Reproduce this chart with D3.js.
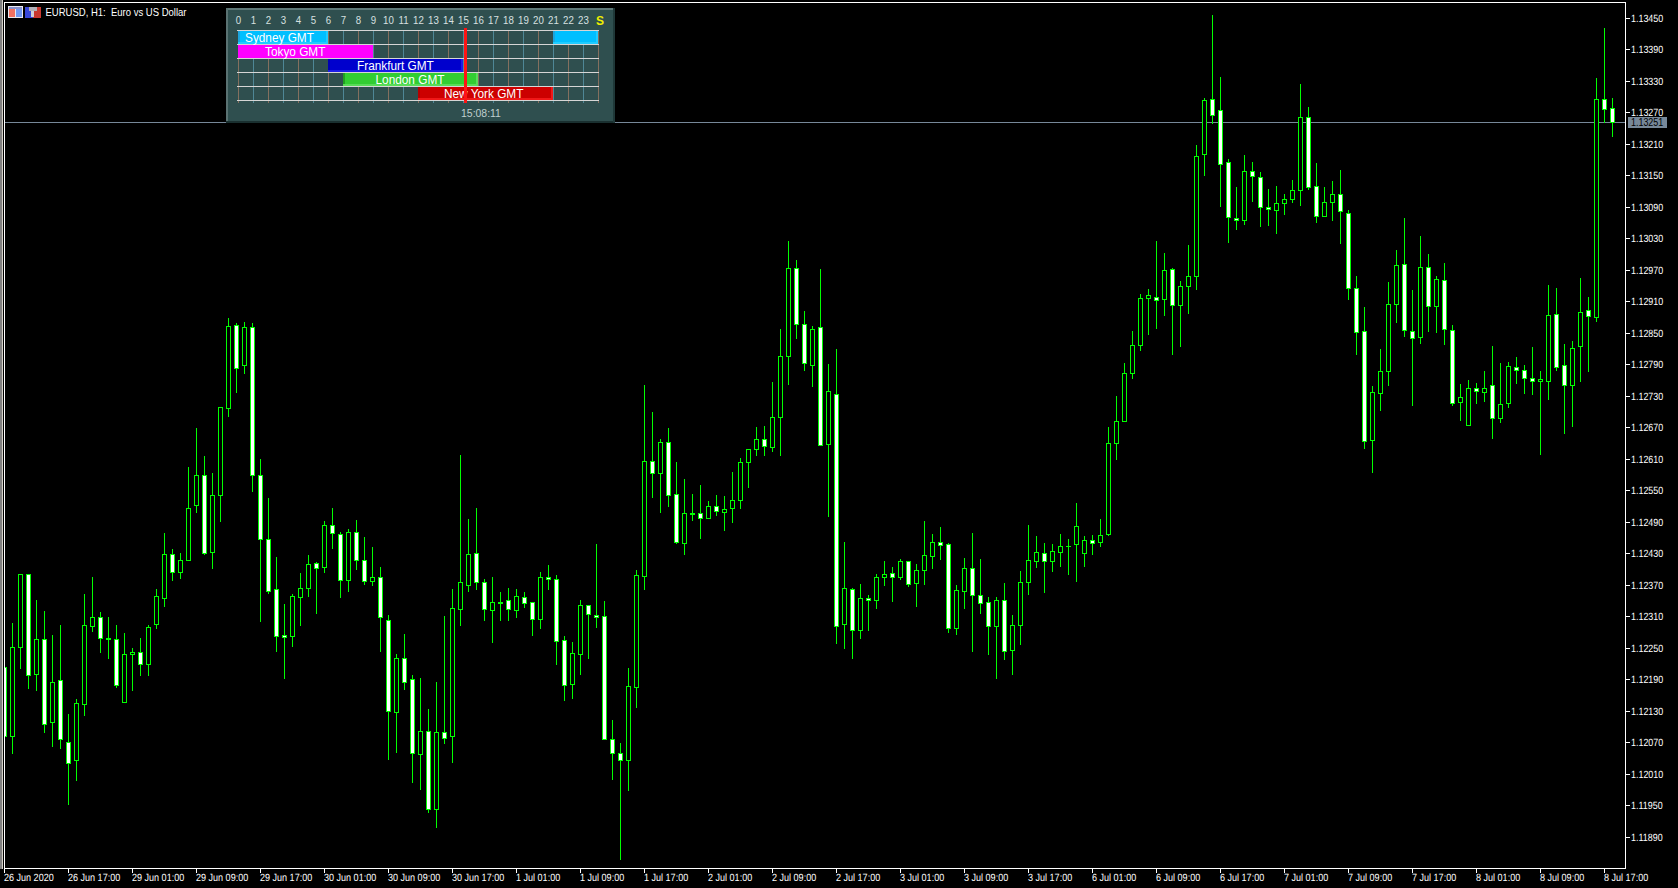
<!DOCTYPE html>
<html><head><meta charset="utf-8"><style>
html,body{margin:0;padding:0;background:#000;overflow:hidden}
svg{display:block}
text{font-family:"Liberation Sans",sans-serif;white-space:pre}
</style><script src="https://cdn.jsdelivr.net/npm/d3@7"></script></head><body><svg id="c" width="1678" height="888"></svg>
<script>
const opens=[112214,112082,112252,112391,112200,112266,112109,112189,112071,112036,
112143,112292,112309,112269,112266,112147,112238,112243,112219,112296,
112345,112428,112395,112417,112522,112580,112433,112541,112707,112866,
112789,112862,112580,112458,112363,112274,112272,112346,112364,112412,
112404,112484,112467,112379,112471,112418,112377,112385,112303,112127,
112231,112191,112047,112092,111943,112090,112082,112325,112369,112431,
112376,112322,112338,112341,112322,112347,112338,112305,112385,112381,
112265,112181,112238,112331,112313,112311,112076,112050,112036,112175,
112387,112606,112583,112643,112543,112450,112507,112507,112497,112520,
112508,112516,112531,112604,112628,112648,112632,112689,112806,112974,
112867,112789,112861,112638,112733,112296,112362,112284,112345,112341,
112386,112392,112385,112416,112374,112399,112425,112451,112447,112288,
112359,112403,112350,112338,112292,112342,112246,112294,112376,112416,
112430,112416,112433,112445,112448,112431,112456,112452,112467,112640,
112682,112773,112827,112916,112919,112914,112972,112903,112939,112958,
113190,113296,113275,113176,113069,113065,113159,113147,113090,113084,
113097,113105,113122,113261,113130,113072,113099,113115,113079,112936,
112854,112646,112735,112777,112905,112981,112854,112842,112976,112901,
112951,112856,112718,112674,112745,112737,112751,112687,112716,112785,
112780,112764,112759,112758,112886,112788,112750,112825,112894,112880,
113296,113279];
const closes=[112082,112252,112391,112198,112266,112105,112186,112076,112031,112146,
112294,112309,112269,112267,112179,112239,112243,112219,112290,112348,
112428,112395,112418,112517,112580,112431,112542,112708,112864,112783,
112862,112579,112457,112358,112273,112271,112349,112364,112410,112402,
112484,112468,112379,112471,112417,112377,112385,112308,112129,112231,
112185,112049,112092,111943,112090,112078,112326,112376,112429,112375,
112325,112338,112336,112324,112349,112335,112305,112385,112381,112263,
112179,112240,112332,112314,112309,112076,112050,112036,112178,112389,
112606,112583,112643,112542,112452,112507,112506,112497,112520,112511,
112515,112532,112605,112629,112648,112635,112690,112806,112974,112867,
112793,112857,112636,112740,112291,112364,112284,112345,112341,112386,
112390,112386,112415,112372,112399,112426,112451,112446,112288,112361,
112403,112351,112336,112292,112342,112244,112294,112376,112418,112432,
112416,112434,112445,112444,112483,112456,112450,112466,112641,112682,
112774,112827,112917,112922,112912,112970,112903,112940,112959,113187,
113294,113265,113171,113070,113065,113159,113148,113089,113086,113098,
113105,113122,113261,113127,113072,113100,113115,113082,112935,112851,
112644,112738,112778,112905,112980,112855,112840,112976,112901,112953,
112857,112716,112728,112745,112739,112745,112687,112715,112787,112779,
112764,112759,112762,112884,112786,112750,112821,112890,112882,113296,
113277,113252];
const highs=[112214,112297,112391,112391,112342,112321,112274,112293,112125,112152,
112352,112386,112318,112308,112293,112278,112249,112268,112294,112362,
112468,112438,112430,112594,112668,112615,112584,112708,112878,112868,
112870,112868,112609,112535,112423,112333,112353,112393,112426,112414,
112492,112517,112471,112477,112494,112462,112443,112405,112312,112239,
112277,112199,112192,112134,112186,112310,112363,112618,112496,112517,
112381,112386,112357,112365,112363,112357,112338,112395,112407,112388,
112272,112262,112342,112331,112447,112339,112112,112069,112211,112399,
112750,112699,112647,112668,112605,112571,112544,112561,112530,112542,
112540,112586,112611,112629,112670,112672,112757,112857,113026,112988,
112891,112864,112972,112790,112819,112451,112365,112371,112350,112390,
112415,112404,112420,112416,112409,112491,112467,112480,112449,112369,
112421,112468,112419,112347,112347,112373,112312,112396,112484,112463,
112449,112448,112467,112457,112526,112463,112465,112495,112670,112729,
112793,112853,112925,112933,113026,113003,112974,112948,113018,113207,
113298,113456,113338,113182,113127,113188,113176,113157,113125,113129,
113114,113142,113325,113281,113174,113127,113140,113161,113085,112959,
112900,112748,112820,112946,113007,113068,112931,113035,113001,112959,
112984,112866,112752,112761,112755,112778,112826,112792,112795,112805,
112788,112824,112778,112942,112936,112828,112835,112954,112919,113336,
113430,113298];
const lows=[112082,112049,112211,112174,112169,112089,112064,112059,111952,111998,
112123,112282,112242,112230,112175,112147,112169,112198,112198,112287,
112329,112379,112383,112417,112508,112428,112403,112491,112691,112737,
112773,112548,112302,112355,112245,112192,112254,112294,112348,112317,
112395,112441,112346,112359,112401,112371,112369,112245,112039,112052,
112172,111995,111982,111938,111908,112068,112033,112294,112359,112363,
112304,112262,112304,112304,112308,112327,112275,112287,112363,112220,
112150,112155,112201,112230,112289,112076,112001,111847,111980,112138,
112363,112537,112508,112521,112449,112429,112493,112459,112497,112504,
112474,112489,112517,112556,112618,112617,112626,112618,112752,112841,
112779,112748,112636,112502,112260,112249,112230,112268,112285,112326,
112369,112339,112381,112368,112329,112371,112402,112419,112280,112276,
112326,112244,112316,112238,112192,112228,112200,112257,112352,112404,
112356,112396,112406,112390,112377,112406,112428,112444,112465,112609,
112682,112765,112818,112847,112860,112885,112809,112826,112887,112934,
113150,113249,113091,113024,113047,113058,113102,113054,113056,113041,
113077,113100,113093,113125,113062,113072,113066,113022,112915,112809,
112630,112586,112704,112750,112870,112845,112713,112830,112854,112851,
112828,112712,112685,112674,112717,112721,112649,112681,112708,112755,
112736,112733,112620,112725,112780,112660,112673,112759,112778,112872,
113252,113225];
const priceTicks=[113450,113390,113330,113270,113210,113150,113090,113030,112970,112910,112850,112790,112730,112670,112610,112550,112490,112430,112370,112310,112250,112190,112130,112070,112010,111950,111890];
const timeLabels=["26 Jun 2020","26 Jun 17:00","29 Jun 01:00","29 Jun 09:00","29 Jun 17:00","30 Jun 01:00","30 Jun 09:00","30 Jun 17:00","1 Jul 01:00","1 Jul 09:00","1 Jul 17:00","2 Jul 01:00","2 Jul 09:00","2 Jul 17:00","3 Jul 01:00","3 Jul 09:00","3 Jul 17:00","6 Jul 01:00","6 Jul 09:00","6 Jul 17:00","7 Jul 01:00","7 Jul 09:00","7 Jul 17:00","8 Jul 01:00","8 Jul 09:00","8 Jul 17:00"];
const timeLabelStep=8;
const bidPrice=113251;
const chartTitle="EURUSD, H1:\u00A0\u00A0Euro vs US Dollar";
const sessionNames=["Sydney GMT","Tokyo GMT","Frankfurt GMT","London GMT","New York GMT"];
const sessionStarts=[0,0,6,7,12];
const sessionEnds=[6,9,15,16,21];
const sessionWrapStart=21;
const sessionColors=["#00BFFF","#FF00FF","#0000CD","#32CD32","#CC0000"];
const sessionLight=["#20CCFF","#FF00FF","#1C1CE8","#58DC58","#F01818"];
const sessionDark=["#1CA4DC","#FF00FF","#0000B4","#20A020","#B40000"];
const sessionTextX=[245,265,357,375.5,444];
const hours=d3.range(24);
const clockText="15:08:11";
const clockHour=15+8/60;

const fmt=v=>(v/1e5).toFixed(5);
const svg=d3.select("#c").attr("shape-rendering","crispEdges");
svg.append("rect").attr("width",1678).attr("height",888).attr("fill","#000");

const x=d3.scaleLinear().domain([0,201]).range([4,1612]).interpolate(d3.interpolateRound);
const y=d3.scaleLinear().domain([113450,111890]).range([17.9,836.9]).interpolate(d3.interpolateRound);

// squeeze text horizontally, keeps a tall narrow look like the terminal font
function squeeze(sel,k){sel.each(function(){const l=this.getComputedTextLength();d3.select(this).attr("textLength",l*k).attr("lengthAdjust","spacingAndGlyphs");});}

// window strip
svg.append("rect").attr("x",0).attr("y",0).attr("width",2).attr("height",869).attr("fill","#808080");
svg.append("rect").attr("x",2).attr("y",0).attr("width",1).attr("height",869).attr("fill","#d4d0c8");

// bid line behind candles
const bidY=y(bidPrice);
svg.append("rect").attr("x",5).attr("y",bidY).attr("width",1620).attr("height",1).attr("fill","#778899");

// candles
const defs=svg.append("defs");
defs.append("clipPath").attr("id","plot").append("rect").attr("x",5).attr("y",3).attr("width",1620).attr("height",865);
const candles=svg.append("g").attr("clip-path","url(#plot)");
const idx=d3.range(opens.length);
candles.selectAll("rect.w").data(idx).join("rect").attr("class","w")
 .attr("x",i=>x(i)).attr("width",1).attr("y",i=>y(highs[i])).attr("height",i=>y(lows[i])-y(highs[i])+1).attr("fill","#00FF00");
const bodyTop=i=>y(Math.max(opens[i],closes[i])), bodyBot=i=>y(Math.min(opens[i],closes[i]));
candles.selectAll("rect.b").data(idx).join("rect").attr("class","b")
 .attr("x",i=>x(i)-2).attr("width",5).attr("y",bodyTop).attr("height",i=>bodyBot(i)-bodyTop(i)+1).attr("fill","#00FF00");
candles.selectAll("rect.f").data(idx.filter(i=>bodyBot(i)-bodyTop(i)>1)).join("rect").attr("class","f")
 .attr("x",i=>x(i)-1).attr("width",3).attr("y",i=>bodyTop(i)+1).attr("height",i=>bodyBot(i)-bodyTop(i)-1)
 .attr("fill",i=>closes[i]<opens[i]?"#fff":"#000");

// frame
const frameRects=[[4,2,1622,1],[4,2,1,867],[1625,2,1,867],[4,868,1622,1]];
svg.selectAll("rect.fr").data(frameRects).join("rect").attr("class","fr")
 .attr("x",d=>d[0]).attr("y",d=>d[1]).attr("width",d=>d[2]).attr("height",d=>d[3]).attr("fill","#fff");

// axes
const yAxis=d3.axisRight(y).tickValues(priceTicks).tickSize(4).tickPadding(1).tickFormat(fmt);
const gy=svg.append("g").attr("transform","translate(1625.5,0)").call(yAxis);
const xTicks=timeLabels.map((_,j)=>j*timeLabelStep);
const xAxis=d3.axisBottom(x).tickValues(xTicks).tickSize(4).tickPadding(1).tickFormat((_,j)=>timeLabels[j]);
const gx=svg.append("g").attr("transform","translate(0,868.5)").call(xAxis);
[gy,gx].forEach(g=>{g.select(".domain").remove();g.attr("font-family",null).attr("font-size",null);
 g.selectAll("line").attr("stroke","#fff");
 g.selectAll("text").attr("fill","#fff").attr("font-size",10.5).style("font-family",'"Liberation Sans"').attr("text-rendering","geometricPrecision");});
gy.selectAll("text").attr("x",5.5).attr("dy","0.36em").call(squeeze,.85);
gx.selectAll("text").attr("text-anchor","start").attr("x",-0.5).attr("y",4).attr("dy","0.78em").call(squeeze,.86);

// bid label
svg.append("rect").attr("x",1628).attr("y",bidY-5).attr("width",39).attr("height",11).attr("fill","#778899");
svg.append("text").attr("x",1631).attr("y",bidY+4).attr("fill","#000").attr("font-size",10.5).text(fmt(bidPrice)).call(squeeze,.85);

// title and icons
const titleText=svg.append("text").attr("x",45.5).attr("y",16).attr("fill","#fff").attr("font-size",10.5).text(chartTitle);
titleText.call(squeeze,141/titleText.node().getComputedTextLength());
const icons=[[8,6,15,12,"#e8e8f0"],[9,7,13,2,"#8890c8"],[9,9,6,8,"#f07060"],[15.5,9,6,8,"#7098f0"],
 [25,7,8,11,"#3848d8"],[33,7,8,11,"#c83830"],[29,7,8,4,"#b0b0b8"],[31,11,3,6,"#d0d0d8"]];
svg.selectAll("rect.ic").data(icons).join("rect").attr("class","ic")
 .attr("x",d=>d[0]).attr("y",d=>d[1]).attr("width",d=>d[2]).attr("height",d=>d[3]).attr("fill",d=>d[4]);

// session panel
const panel=svg.append("g");
const pr=(x0,y0,w,h,c)=>panel.append("rect").attr("x",x0).attr("y",y0).attr("width",w).attr("height",h).attr("fill",c);
pr(226,8,389,115,"#2F4F4F");
pr(226,8,389,2,"#5f7878");
pr(226,8,2,115,"#5a7272");
pr(226,121,389,2,"#1a3030");
pr(613,8,2,115,"#1f3838");
const hx=d3.scaleLinear().domain([0,24]).range([237.5,598]).interpolate(d3.interpolateRound);
const rowY=d3.scaleLinear().domain([0,5]).range([30,100]);
panel.selectAll("rect.v").data(d3.range(25)).join("rect").attr("class","v")
 .attr("x",h=>hx(h)).attr("y",30).attr("width",1).attr("height",73).attr("fill",h=>h%2?"#4f8796":"#84705f");
const bars=[];
sessionNames.forEach((n,i)=>{bars.push({i,a:sessionStarts[i],b:sessionEnds[i]});});
bars.push({i:0,a:sessionWrapStart,b:24});
bars.forEach(d=>{
 const x0=hx(d.a),x1=hx(d.b),y0=rowY(d.i)+1;
 pr(x0,y0,x1-x0,13,sessionColors[d.i]);
 pr(x0,y0,2,13,sessionDark[d.i]);
 pr(x1-2,y0,2,13,sessionLight[d.i]);
 pr(x0,y0+11,x1-x0,2,sessionLight[d.i]);
});
panel.selectAll("rect.h").data(d3.range(6)).join("rect").attr("class","h")
 .attr("x",237).attr("y",r=>rowY(r)).attr("width",362).attr("height",1).attr("fill","#d6d6d6");
panel.selectAll("text.hr").data(hours).join("text").attr("class","hr")
 .attr("x",h=>hx(h)+.5).attr("y",24).attr("text-anchor","middle").attr("font-size",11).attr("fill","#d8e0e0").text(h=>h).call(squeeze,.88);
panel.append("text").attr("x",600).attr("y",24.5).attr("text-anchor","middle").attr("font-size",12).attr("font-weight","bold").attr("fill","#f0f000").text("S");
panel.selectAll("text.s").data(sessionNames).join("text").attr("class","s")
 .attr("x",(d,i)=>sessionTextX[i]).attr("y",(d,i)=>rowY(i)+11.5).attr("font-size",12.5).attr("fill","#fff").text(d=>d).call(squeeze,.945);
pr(hx(clockHour)-1,28,3,75,"#FF1414");
panel.append("text").attr("x",481).attr("y",117).attr("text-anchor","middle").attr("font-size",11).attr("fill","#c0d0d0").text(clockText).call(squeeze,.95);
</script></body></html>
